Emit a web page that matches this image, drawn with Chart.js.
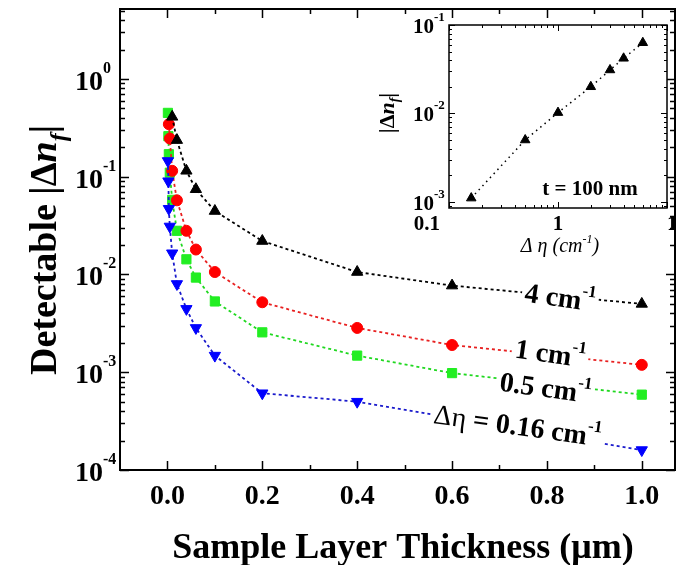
<!DOCTYPE html>
<html>
<head>
<meta charset="utf-8">
<script src="https://cdn.jsdelivr.net/npm/chart.js@4.4.1/dist/chart.umd.min.js"></script>
<style>
  html, body { margin: 0; padding: 0; background: #fff; overflow: hidden; }
  #wrap { position: relative; width: 676px; height: 565px; }
  #wrap canvas { position: absolute; left: 0; top: 0; }
  #inset { pointer-events: none; }
</style>
</head>
<body>
<div id="wrap">
  <canvas id="mainChart" width="676" height="565"></canvas>
  <canvas id="inset" width="676" height="565"></canvas>
</div>
<script>
/* ====== DATA (main plot: thickness in um, detectable |dn_f|) ====== */
const tBlack = [0.01, 0.02, 0.04, 0.06, 0.1, 0.2, 0.4, 0.6, 1.0];
const dnEta4 = [0.41, 0.237, 0.115, 0.0745, 0.0446, 0.022, 0.0106, 0.0077, 0.005];

const tRed = [0.003, 0.005, 0.01, 0.02, 0.04, 0.06, 0.1, 0.2, 0.4, 0.6, 1.0];
const dnEta1 = [0.345, 0.246, 0.115, 0.0574, 0.028, 0.018, 0.0106, 0.0052, 0.00284, 0.0019, 0.00119];

const tGreen = [0.001, 0.002, 0.003, 0.005, 0.01, 0.02, 0.04, 0.06, 0.1, 0.2, 0.4, 0.6, 1.0];
const dnEta05 = [0.45, 0.26, 0.17, 0.11, 0.058, 0.028, 0.0143, 0.0093, 0.0053, 0.00256, 0.00148, 0.00098, 0.00059];

const tBlue = [0.001, 0.002, 0.003, 0.005, 0.01, 0.02, 0.04, 0.06, 0.1, 0.2, 0.4, 1.0];
const dnEta016 = [0.145, 0.09, 0.047, 0.031, 0.0165, 0.008, 0.00445, 0.00284, 0.00148, 0.00061, 0.0005, 0.00016];

// tick labels
const xTickVals = [0, 0.2, 0.4, 0.6, 0.8, 1.0];
const xTickLabels = ["0.0", "0.2", "0.4", "0.6", "0.8", "1.0"];
const yTickVals = [1, 0.1, 0.01, 0.001, 0.0001];
const yTickExp = ["0", "-1", "-2", "-3", "-4"];

// curve labels (anchored in data units)
const curveLabels = [
  { pre: "", main: "4 cm", sup: "-1", x: 0.828, y: 0.0058 },
  { pre: "", main: "1 cm", sup: "-1", x: 0.807, y: 0.00155 },
  { pre: "", main: "0.5 cm", sup: "-1", x: 0.797, y: 0.00069 },
  { pre: "\u0394\u03B7", main: " = 0.16 cm", sup: "-1", x: 0.738, y: 0.000283 },
];

/* ====== DATA (inset: t = 100 nm) ====== */
const insetEta = [0.16, 0.5, 1, 2, 3, 4, 6];
const insetDn = [0.0011, 0.005, 0.0102, 0.02, 0.031, 0.042, 0.063];
const insetXTicks = [0.1, 1, 10];
const insetXLabels = ["0.1", "1", "10"];
const insetYTicks = [0.1, 0.01, 0.001];
const insetYExp = ["-1", "-2", "-3"];

const SERIF = "'Liberation Serif', 'Times New Roman', serif";

function pts(xs, ys) {
  return xs.map((x, i) => ({ x: x, y: ys[i] }));
}

// draw a row of text pieces with different fonts / offsets
function richText(ctx, parts, x, y, opt) {
  opt = opt || {};
  ctx.save();
  ctx.translate(x, y);
  if (opt.rot) ctx.rotate(opt.rot);
  let w = 0;
  parts.forEach((p) => {
    ctx.font = p.font;
    p.w = ctx.measureText(p.t).width;
    w += p.w;
  });
  let cx = opt.align === "center" ? -w / 2 : opt.align === "right" ? -w : 0;
  if (opt.bg) {
    ctx.fillStyle = opt.bg;
    ctx.fillRect(cx - 3, opt.bgTop, w + 6, opt.bgH);
  }
  ctx.fillStyle = "#000";
  ctx.textAlign = "left";
  ctx.textBaseline = "alphabetic";
  parts.forEach((p) => {
    ctx.font = p.font;
    ctx.fillText(p.t, cx, p.dy || 0);
    cx += p.w;
  });
  ctx.restore();
}

function logMinorTicks(min, max) {
  const out = [];
  for (let e = -6; e <= 2; e++) {
    for (let k = 1; k <= 9; k++) {
      const v = k * Math.pow(10, e);
      if (v >= min * 0.999 && v <= max * 1.001) out.push({ v: v, major: k === 1 });
    }
  }
  return out;
}

/* ====== MAIN CHART DECORATION ====== */
const mainDecor = {
  id: "mainDecor",
  afterDatasetsDraw(chart) {
    const ctx = chart.ctx;
    const xs = chart.scales.x, ys = chart.scales.y;
    curveLabels.forEach((l) => {
      const px = xs.getPixelForValue(l.x);
      const py = ys.getPixelForValue(l.y);
      const parts = [];
      if (l.pre) parts.push({ t: l.pre, font: "28px " + SERIF, dy: 9 });
      parts.push({ t: l.main, font: "bold 28px " + SERIF, dy: 9 });
      parts.push({ t: l.sup, font: "bold 17px " + SERIF, dy: -5 });
      richText(ctx, parts, px, py, { align: "center", rot: 0.14, bg: "#fff", bgTop: -12, bgH: 28 });
    });
  },
  afterDraw(chart) {
    const ctx = chart.ctx;
    const a = chart.chartArea;
    const xs = chart.scales.x, ys = chart.scales.y;
    ctx.save();
    ctx.strokeStyle = "#000";
    ctx.lineWidth = 2;
    ctx.strokeRect(a.left, a.top, a.right - a.left, a.bottom - a.top);

    // y ticks, both sides, pointing in
    ctx.lineWidth = 1.5;
    ctx.beginPath();
    logMinorTicks(ys.min, ys.max).forEach((t) => {
      const py = Math.round(ys.getPixelForValue(t.v)) + 0.5;
      const len = t.major ? 9 : 5;
      ctx.moveTo(a.left, py); ctx.lineTo(a.left + len, py);
      ctx.moveTo(a.right, py); ctx.lineTo(a.right - len, py);
    });
    // x ticks, top and bottom
    for (let i = 0; i <= 10; i++) {
      const px = Math.round(xs.getPixelForValue(i / 10)) + 0.5;
      const len = i % 2 === 0 ? 9 : 5;
      ctx.moveTo(px, a.bottom); ctx.lineTo(px, a.bottom - len);
      ctx.moveTo(px, a.top); ctx.lineTo(px, a.top + len);
    }
    ctx.stroke();
    ctx.restore();

    // tick labels
    xTickVals.forEach((v, i) => {
      richText(ctx, [{ t: xTickLabels[i], font: "bold 28px " + SERIF }],
        xs.getPixelForValue(v), 504, { align: "center" });
    });
    yTickVals.forEach((v, i) => {
      const py = ys.getPixelForValue(v);
      richText(ctx, [
        { t: "10", font: "bold 28px " + SERIF, dy: 11 },
        { t: yTickExp[i], font: "bold 16px " + SERIF, dy: -6 },
      ], 75, py, { align: "left" });
    });

    // axis titles
    richText(ctx, [{ t: "Sample Layer Thickness (\u03BCm)", font: "bold 36px " + SERIF }],
      403, 558, { align: "center" });
    richText(ctx, [
      { t: "Detectable |\u0394", font: "bold 38px " + SERIF },
      { t: "n", font: "italic bold 38px " + SERIF },
      { t: "f", font: "italic bold 24px " + SERIF, dy: 10 },
      { t: "|", font: "bold 38px " + SERIF },
    ], 56, 250, { align: "center", rot: -Math.PI / 2 });
  },
};

new Chart(document.getElementById("mainChart"), {
  type: "line",
  data: {
    datasets: [
      {
        data: pts(tBlack, dnEta4),
        borderColor: "#000", backgroundColor: "#000",
        borderWidth: 1.8, borderDash: [3, 3],
        pointStyle: "triangle", pointRadius: 6.5, pointBorderWidth: 1, pointBorderColor: "#000",
      },
      {
        data: pts(tBlue, dnEta016),
        borderColor: "#1a1acc", backgroundColor: "#0000ff",
        borderWidth: 1.8, borderDash: [3, 3],
        pointStyle: "triangle", pointRotation: 180, pointRadius: 6.5, pointBorderWidth: 1, pointBorderColor: "#0000ff",
      },
      {
        data: pts(tRed, dnEta1),
        borderColor: "#e82020", backgroundColor: "#ff0000",
        borderWidth: 1.8, borderDash: [3, 3],
        pointStyle: "circle", pointRadius: 5.5, pointBorderWidth: 1, pointBorderColor: "#ff0000",
      },
      {
        data: pts(tGreen, dnEta05),
        borderColor: "#20d820", backgroundColor: "#22ee22",
        borderWidth: 1.8, borderDash: [3, 3],
        pointStyle: "rect", pointRadius: 6.5, pointBorderWidth: 1, pointBorderColor: "#22ee22",
      },
    ],
  },
  options: {
    responsive: false,
    animation: false,
    devicePixelRatio: 1,
    layout: { autoPadding: false, padding: { left: 120, top: 9, right: 1, bottom: 95 } },
    plugins: { legend: { display: false }, tooltip: { enabled: false } },
    elements: { line: { tension: 0, fill: false } },
    scales: {
      x: { type: "linear", min: -0.1, max: 1.07, display: false },
      y: { type: "logarithmic", min: 0.0001, max: 5.2, display: false },
    },
  },
  plugins: [mainDecor],
});

/* ====== INSET ====== */
const insetDecor = {
  id: "insetDecor",
  beforeDraw(chart) {
    const a = chart.chartArea;
    chart.ctx.save();
    chart.ctx.fillStyle = "#fff";
    chart.ctx.fillRect(a.left, a.top, a.right - a.left, a.bottom - a.top);
    chart.ctx.restore();
  },
  afterDraw(chart) {
    const ctx = chart.ctx;
    const a = chart.chartArea;
    const xs = chart.scales.x, ys = chart.scales.y;
    ctx.save();
    ctx.strokeStyle = "#000";
    ctx.lineWidth = 1.5;
    ctx.strokeRect(a.left, a.top, a.right - a.left, a.bottom - a.top);
    ctx.lineWidth = 1;
    ctx.beginPath();
    logMinorTicks(ys.min, ys.max).forEach((t) => {
      const py = Math.round(ys.getPixelForValue(t.v)) + 0.5;
      const len = t.major ? 6 : 3;
      ctx.moveTo(a.left, py); ctx.lineTo(a.left + len, py);
      ctx.moveTo(a.right, py); ctx.lineTo(a.right - len, py);
    });
    logMinorTicks(xs.min, xs.max).forEach((t) => {
      const px = Math.round(xs.getPixelForValue(t.v)) + 0.5;
      const len = t.major ? 6 : 3;
      ctx.moveTo(px, a.bottom); ctx.lineTo(px, a.bottom - len);
      ctx.moveTo(px, a.top); ctx.lineTo(px, a.top + len);
    });
    ctx.stroke();
    ctx.restore();

    insetXTicks.forEach((v, i) => {
      const px = xs.getPixelForValue(v);
      const align = i === 0 ? "right" : i === insetXTicks.length - 1 ? "left" : "center";
      const off = i === 0 ? -9 : 0;
      richText(ctx, [{ t: insetXLabels[i], font: "bold 21px " + SERIF }], px + off, 230, { align: align });
    });
    insetYTicks.forEach((v, i) => {
      const py = ys.getPixelForValue(v);
      richText(ctx, [
        { t: "10", font: "bold 21px " + SERIF, dy: 8 },
        { t: insetYExp[i], font: "bold 13px " + SERIF, dy: -4 },
      ], 413, py, { align: "left" });
    });

    richText(ctx, [
      { t: "\u0394 \u03B7 (cm", font: "italic 20px " + SERIF },
      { t: "-1", font: "italic 12px " + SERIF, dy: -9 },
      { t: ")", font: "italic 20px " + SERIF },
    ], 560, 252, { align: "center" });
    richText(ctx, [
      { t: "|\u0394", font: "bold 22px " + SERIF },
      { t: "n", font: "italic bold 22px " + SERIF },
      { t: "f", font: "italic bold 14px " + SERIF, dy: 5 },
      { t: "|", font: "bold 22px " + SERIF },
    ], 394, 113, { align: "center", rot: -Math.PI / 2 });
    richText(ctx, [{ t: "t = 100 nm", font: "bold 21px " + SERIF }], 590, 195, { align: "center" });
  },
};

new Chart(document.getElementById("inset"), {
  type: "line",
  data: {
    datasets: [
      {
        data: pts(insetEta, insetDn),
        borderColor: "#000", backgroundColor: "#000",
        borderWidth: 1.5, borderDash: [1.5, 4],
        pointStyle: "triangle", pointRadius: 5.5, pointBorderWidth: 1, pointBorderColor: "#000",
      },
    ],
  },
  options: {
    responsive: false,
    animation: false,
    devicePixelRatio: 1,
    layout: { autoPadding: false, padding: { left: 449, top: 25, right: 9, bottom: 357 } },
    plugins: { legend: { display: false }, tooltip: { enabled: false } },
    elements: { line: { tension: 0, fill: false } },
    scales: {
      x: { type: "logarithmic", min: 0.1, max: 10, display: false },
      y: { type: "logarithmic", min: 0.00085, max: 0.1, display: false },
    },
  },
  plugins: [insetDecor],
});
</script>
</body>
</html>
